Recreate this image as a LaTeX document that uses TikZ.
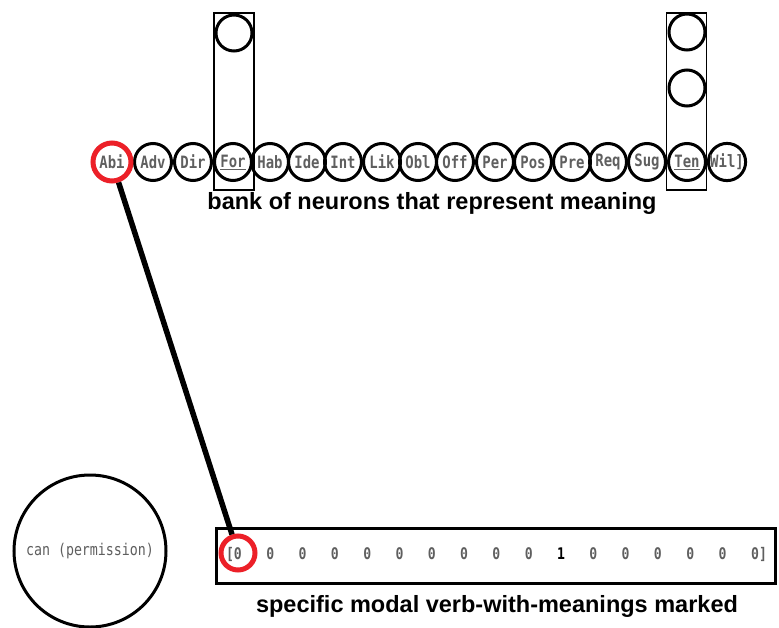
\documentclass[tikz,border=0pt]{standalone}
\usepackage{fontspec}
\setmainfont{Liberation Sans}
\newfontfamily\monof[FakeStretch=0.82]{DejaVu Sans Mono}
\definecolor{mkred}{RGB}{236,32,40}
\definecolor{txtgray}{RGB}{95,95,95}
\begin{document}
\begin{tikzpicture}[x=1pt,y=-1pt,
  neuron/.style={circle,draw=black,line width=3pt,minimum size=37pt,inner sep=0pt,
    font=\monof\bfseries\fontsize{17}{17}\selectfont,text=txtgray},
  colbox/.style={draw=black,line width=1.4pt,minimum width=40pt,minimum height=177pt,inner sep=0pt},
  emptyn/.style={circle,draw=black,line width=3pt,minimum size=36pt,inner sep=0pt},
  bigtxt/.style={font=\bfseries\fontsize{23.5}{23.5}\selectfont,text=black},
  digit/.style={font=\monof\bfseries\fontsize{16}{16}\selectfont,text=txtgray,inner sep=0pt},
  marker/.style={circle,draw=mkred,line width=5pt,inner sep=0pt},
  link/.style={draw=black,line width=5.5pt}]
\useasboundingbox (0,0) rectangle (779,627);
\fill[white] (0,0) rectangle (779,627);

% column boxes and upper neurons
\node[colbox] (forbox) at (234,101.5) {};
\node[colbox] (tenbox) at (686.5,101.5) {};
\node[emptyn] (fortop) at (234,33) {};
\node[emptyn] (tentop) at (687,32) {};
\node[emptyn] (tenmid) at (687,88) {};

% bank of neurons
\foreach \x/\t/\n in {153/Adv/adv,193/Dir/dir,233/\underline{For}/for,270/Hab/hab,
  307/Ide/ide,343/Int/int,382/Lik/lik,418/Obl/obl,455/Off/off,495/Per/per,533/Pos/pos,
  572/Pre/pre,608/Req/req,647/Sug/sug,687/\underline{Ten}/ten,727/Wil]/wil}
  \node[neuron] (\n) at (\x,162) {\t};
\node[neuron,draw=mkred,line width=5pt,minimum size=38pt] (abi) at (112,162) {Abi};

\node[bigtxt] (banklabel) at (432,203) {bank of neurons that represent meaning};

% modal verb
\node[circle,draw=black,line width=3pt,minimum size=152pt,inner sep=0pt,
  font=\monof\fontsize{16.2}{16.2}\selectfont,text=txtgray] (can) at (90,551) {can (permission)};

% vector
\node[draw=black,line width=3pt,minimum width=559pt,minimum height=55pt,inner sep=0pt] (vbox) at (495.5,555.5) {};
\node[digit,anchor=base east] (v1) at (242,559) {[0};
\foreach \i in {2,...,10}
  \node[digit,anchor=base] (v\i) at ({238+32.3*(\i-1)},559) {0};
\node[digit,anchor=base,text=black] (v11) at ({238+32.3*10},559) {1};
\foreach \i in {12,...,16}
  \node[digit,anchor=base] (v\i) at ({238+32.3*(\i-1)},559) {0};
\node[digit,anchor=base west] (v17) at (751,559) {0]};
\node[marker,minimum size=34pt] (rz) at (238,553) {};

\node[bigtxt] (veclabel) at (497,606) {specific modal verb-with-meanings marked};

% connector
\draw[link] (abi) -- (rz);
\end{tikzpicture}
\end{document}
